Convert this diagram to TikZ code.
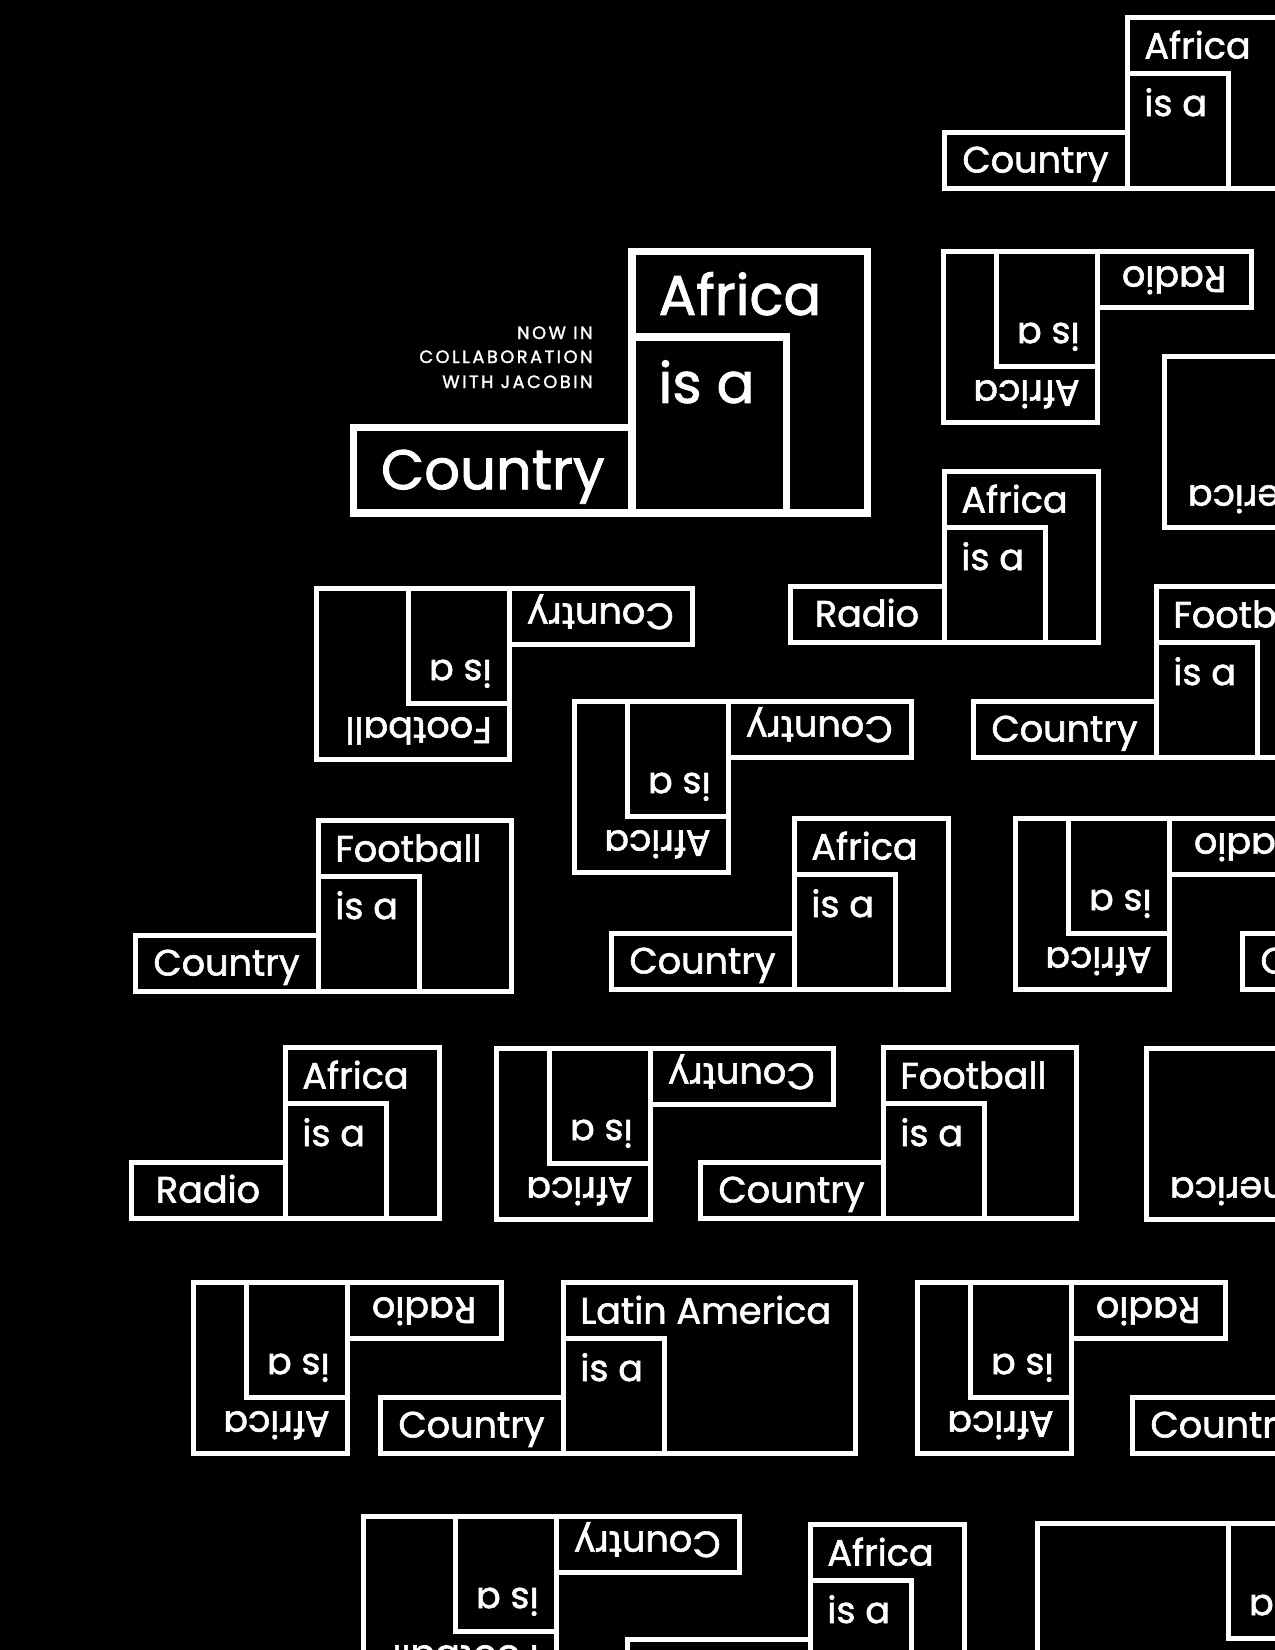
\documentclass[tikz,border=0pt]{standalone}
\usepackage{fontspec}
\setmainfont{Poppins}[FakeBold=1.6]
\newfontfamily\trackfont[LetterSpace=14, FakeBold=1.6]{Poppins}
\newcommand\logofont{\fontsize{18.3}{20}\selectfont}

\tikzset{
  box/.style={draw=white, line width=2.5pt},
  word/.style={text=white, inner sep=0pt, font=\logofont},
  note/.style={text=white, inner sep=0pt, anchor=base east, font=\trackfont\fontsize{8.9}{10}\selectfont},
  flip/.style={rotate=180, transform shape},
  pics/logo/.style n args={4}{code={
    \draw[box] (0,0) rectangle (#3,-171);
    \draw[box] (0,0) rectangle (101,-115);
    \draw[box] (-#4,0) rectangle (0,-56);
    \node[word, anchor=base west] (-top) at (17,-129.5) {#1};
    \node[word, anchor=base west] (-isa) at (17,-72) {is a};
    \node[word, anchor=base] (-left) at (-#4/2,-15.5) {#2};
  }}
}

\begin{document}
\begin{tikzpicture}[x=0.5pt, y=-0.5pt]
\fill[black] (0,0) rectangle (1275,1650);
\useasboundingbox (0,0) rectangle (1275,1650);
\clip (0,0) rectangle (1275,1650);

\pic[scale=1.53, transform shape, box/.append style={line width=3.6pt}] (main) at (632,513) {logo={Africa}{Country}{154}{182}};
\node[note] (now) at (593,339) {NOW IN};
\node[note] (collab) at (593,363) {COLLABORATION};
\node[note] (with) at (593,388) {WITH JACOBIN};

\pic (a1) at (1127,188) {logo={Africa}{Country}{154}{183}};
\pic (a3) at (944,642) {logo={Africa}{Radio}{154}{154}};
\pic (a4) at (1156,757) {logo={Football}{Country}{193}{183}};
\pic (a5) at (318,991) {logo={Football}{Country}{193}{183}};
\pic (a6) at (794,989) {logo={Africa}{Country}{154}{183}};
\pic (a7) at (1425,989) {logo={Africa}{Country}{154}{183}};
\pic (a8) at (285,1218) {logo={Africa}{Radio}{154}{154}};
\pic (a9) at (883,1218) {logo={Football}{Country}{193}{183}};
\pic (a10) at (563,1453) {logo={Latin America}{Country}{292}{183}};
\pic (a11) at (1315,1453) {logo={Africa}{Country}{154}{183}};
\pic (a12) at (810,1695) {logo={Africa}{Country}{154}{183}};

\pic[flip] (f1) at (1097,251) {logo={Africa}{Radio}{154}{154}};
\pic[flip] (f2) at (1456,356) {logo={Latin America}{Country}{292}{183}};
\pic[flip] (f3) at (509,588) {logo={Football}{Country}{193}{183}};
\pic[flip] (f4) at (728,701) {logo={Africa}{Country}{154}{183}};
\pic[flip] (f5) at (1169,818) {logo={Africa}{Radio}{154}{154}};
\pic[flip] (f6) at (650,1048) {logo={Africa}{Country}{154}{183}};
\pic[flip] (f7) at (1438,1048) {logo={Latin America}{Country}{292}{183}};
\pic[flip] (f8) at (347,1282) {logo={Africa}{Radio}{154}{154}};
\pic[flip] (f9) at (1071,1282) {logo={Africa}{Radio}{154}{154}};
\pic[flip] (f10) at (556,1516) {logo={Football}{Country}{193}{183}};
\pic[flip] (f11) at (1329,1523) {logo={Latin America}{Country}{292}{183}};
\end{tikzpicture}
\end{document}
